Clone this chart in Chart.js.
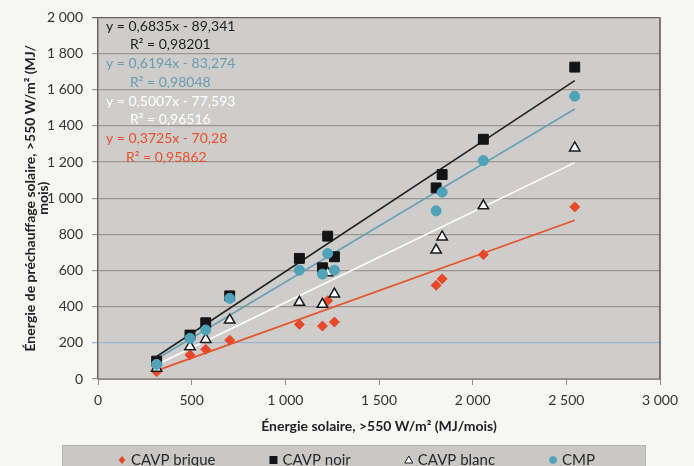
<!DOCTYPE html>
<html lang="fr">
<head>
<meta charset="utf-8">
<script src="https://cdn.jsdelivr.net/npm/chart.js@4/dist/chart.umd.min.js"></script>
<style>
  html, body { margin: 0; padding: 0; background: #f6f6f4; }
  canvas { display: block; }
</style>
</head>
<body>
<canvas id="c" width="694" height="466"></canvas>
<script>
// ---- data ----
const energieSolaire = [313, 491, 575, 703, 1075, 1198, 1226, 1262, 1805, 1837, 2057, 2545];
const cavpBrique = [40, 133, 164, 215, 302, 293, 433, 315, 518, 554, 688, 952];
const cavpNoir   = [99, 243, 311, 460, 667, 615, 790, 676, 1057, 1131, 1326, 1725];
const cavpBlanc  = [59, 179, 219, 326, 424, 413, 587, 470, 713, 786, 958, 1278];
const cmp        = [81, 225, 271, 446, 602, 580, 694, 602, 930, 1033, 1208, 1564];

const seriesNames = ['CAVP brique', 'CAVP noir', 'CAVP blanc', 'CMP'];
// trend lines (order: brique, noir, blanc, CMP)
const slopes     = [0.3725, 0.6835, 0.5007, 0.6194];
const intercepts = [-70.28, -89.341, -77.593, -83.274];
const r2Values   = [0.95862, 0.98201, 0.96516, 0.98048];

const xTicks = [0, 500, 1000, 1500, 2000, 2500, 3000];
const yTicks = [0, 200, 400, 600, 800, 1000, 1200, 1400, 1600, 1800, 2000];

const xTitle = 'Énergie solaire, >550 W/m² (MJ/mois)';
const yTitle = ['Énergie de préchauffage solaire, >550 W/m² (MJ/', 'mois)'];

// ---- styles ----
const FONT = 'Lato, "Open Sans", sans-serif';
const markerFill   = ['#e8482a', '#141414', '#ffffff', '#4fa2b7'];
const markerStroke = ['#e8482a', '#141414', '#1a1a1a', '#4fa2b7'];
const markerStyle  = ['rectRot', 'rect', 'triangle', 'circle'];
const markerRadius = [5, 7, 6, 5];
const lineColors   = ['#e5532b', '#222222', '#ffffff', '#6aa0b6'];
const textColors   = ['#e8502a', '#1e1e1e', '#ffffff', '#6a9cb0'];
const seriesValues = [cavpBrique, cavpNoir, cavpBlanc, cmp];

const fmt = v => String(v).replace(/\B(?=(\d{3})+(?!\d))/g, ' ');
const dec = v => String(v).replace('.', ',');

const xmin = Math.min(...energieSolaire), xmax = Math.max(...energieSolaire);

const datasets = [];
// scatter series; CMP on top
const drawOrder = [3, 2, 1, 0];
seriesValues.forEach((vals, i) => {
  datasets.push({
    type: 'scatter',
    label: seriesNames[i],
    data: energieSolaire.map((x, k) => ({ x, y: vals[k] })),
    pointStyle: markerStyle[i],
    pointRadius: markerRadius[i],
    pointHoverRadius: markerRadius[i],
    backgroundColor: markerFill[i],
    borderColor: markerStroke[i],
    borderWidth: i === 2 ? 1.5 : 1,
    order: drawOrder[i]
  });
});
// trend lines below the markers
slopes.forEach((a, i) => {
  datasets.push({
    type: 'line',
    label: 'trend ' + seriesNames[i],
    data: [{ x: xmin, y: a * xmin + intercepts[i] }, { x: xmax, y: a * xmax + intercepts[i] }],
    borderColor: lineColors[i],
    borderWidth: 1.6,
    pointRadius: 0,
    fill: false,
    order: 10 + i
  });
});

const plotBg = {
  id: 'plotBg',
  beforeDraw(chart) {
    const { ctx, chartArea: a } = chart;
    ctx.save();
    ctx.fillStyle = '#cecdcb';
    ctx.fillRect(a.left, a.top, a.right - a.left, a.bottom - a.top);
    ctx.restore();
  },
  afterDraw(chart) {
    const { ctx, chartArea: a } = chart;
    ctx.save();
    // right border
    ctx.strokeStyle = '#5a5652';
    ctx.lineWidth = 1.5;
    ctx.beginPath();
    ctx.moveTo(a.right, a.top);
    ctx.lineTo(a.right, a.bottom);
    ctx.stroke();

    // equations (order: noir, CMP, blanc, brique)
    const eqOrder = [1, 3, 2, 0];
    ctx.font = '14px ' + FONT;
    ctx.textBaseline = 'middle';
    ctx.textAlign = 'left';
    eqOrder.forEach((s, j) => {
      const b = intercepts[s];
      const eq = 'y = ' + dec(slopes[s]) + 'x ' + (b < 0 ? '- ' : '+ ') + dec(Math.abs(b));
      const r2 = 'R² = ' + dec(r2Values[s]);
      ctx.fillStyle = textColors[s];
      const y0 = a.top + 9 + j * 37.5;
      ctx.fillText(eq, a.left + 8, y0);
      ctx.fillText(r2, a.left + (j === 3 ? 28 : 32), y0 + 18.5);
    });

    // legend box
    const boxL = 62, boxR = 646, boxT = 445, boxB = 466;
    ctx.fillStyle = '#c9c8c6';
    ctx.fillRect(boxL, boxT, boxR - boxL, boxB - boxT);
    ctx.strokeStyle = '#b3b2b0';
    ctx.lineWidth = 1;
    ctx.strokeRect(boxL + 0.5, boxT + 0.5, boxR - boxL - 1, boxB - boxT + 2);

    ctx.font = '15px ' + FONT;
    const gapMarker = 12, gapItem = 55;
    const widths = seriesNames.map(n => ctx.measureText(n).width);
    const total = widths.reduce((s, w) => s + w + gapMarker, 0) + gapItem * (seriesNames.length - 1);
    let x = 357 - total / 2;
    const cy = 460;
    seriesNames.forEach((n, i) => {
      const mx = x + 3;
      ctx.fillStyle = markerFill[i];
      ctx.strokeStyle = markerStroke[i];
      ctx.lineWidth = 1;
      ctx.beginPath();
      if (markerStyle[i] === 'rectRot') {
        ctx.moveTo(mx, cy - 4); ctx.lineTo(mx + 3.5, cy); ctx.lineTo(mx, cy + 4); ctx.lineTo(mx - 3.5, cy); ctx.closePath(); ctx.fill();
      } else if (markerStyle[i] === 'rect') {
        ctx.rect(mx - 4, cy - 4, 8, 8); ctx.fill();
      } else if (markerStyle[i] === 'triangle') {
        ctx.moveTo(mx, cy - 4); ctx.lineTo(mx + 4, cy + 3); ctx.lineTo(mx - 4, cy + 3); ctx.closePath(); ctx.fill(); ctx.stroke();
      } else {
        ctx.arc(mx, cy, 3.8, 0, Math.PI * 2); ctx.fill();
      }
      ctx.fillStyle = '#2a2a2a';
      ctx.fillText(n, x + gapMarker, cy);
      x += gapMarker + widths[i] + gapItem;
    });
    ctx.restore();
  }
};

new Chart(document.getElementById('c'), {
  type: 'scatter',
  data: { datasets },
  options: {
    responsive: false,
    devicePixelRatio: 1,
    animation: false,
    layout: { padding: { left: 0, top: 17, right: 34, bottom: 29 } },
    plugins: { legend: { display: false }, tooltip: { enabled: false } },
    scales: {
      x: {
        type: 'linear',
        min: 0, max: 3000,
        afterFit: s => { s.height = 58; },
        afterBuildTicks: s => { s.ticks = xTicks.map(v => ({ value: v })); },
        ticks: {
          callback: v => fmt(v),
          font: { family: FONT, size: 14 },
          color: '#333333',
          padding: 7,
          maxRotation: 0
        },
        grid: {
          drawOnChartArea: false,
          drawTicks: true,
          tickLength: 6,
          color: '#8f8a86'
        },
        border: { display: true, color: '#8f8a86' },
        title: {
          display: true,
          text: xTitle,
          font: { family: FONT, size: 14, weight: 'bold' },
          color: '#222222',
          padding: { top: 0, bottom: 2 }
        }
      },
      y: {
        type: 'linear',
        min: 0, max: 2000,
        afterFit: s => { s.width = 98; },
        afterBuildTicks: s => { s.ticks = yTicks.map(v => ({ value: v })); },
        ticks: {
          callback: v => fmt(v),
          font: { family: FONT, size: 14 },
          color: '#333333',
          padding: 9
        },
        grid: {
          drawTicks: true,
          tickLength: 6,
          lineWidth: 1.2,
          color: c => c.tick && c.tick.value === 200 ? '#9fb6d2' : (c.tick && c.tick.value === 2000 ? '#6b645e' : '#9d9691')
        },
        border: { display: true, color: '#6b645e', width: 1.5 },
        title: {
          display: true,
          text: yTitle,
          font: { family: FONT, size: 14, weight: 'bold', lineHeight: 0.95 },
          color: '#222222',
          padding: { top: 24, bottom: 0 }
        }
      }
    }
  },
  plugins: [plotBg]
});
</script>
</body>
</html>
